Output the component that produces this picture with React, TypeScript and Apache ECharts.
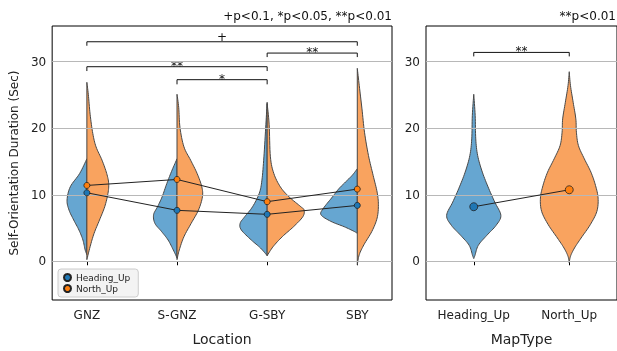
import React, { useEffect, useRef } from "react";
import * as echarts from "echarts";

// ---------- data ----------
const locations = ["GNZ", "S-GNZ", "G-SBY", "SBY"];
const headingMeans = [10.3, 7.66, 7.06, 8.4];
const northMeans = [11.4, 12.3, 8.96, 10.85];

const mapTypes = ["Heading_Up", "North_Up"];
const mapTypeMeans = [8.2, 10.75];

// violin profiles: y levels (sec) and half-widths (category units)
const headingProfileY = [
  [15.4, 13.2, 11.2, 9.2, 7.7, 6.2, 4.7, 3.2, 1.7, 1.0],
  [15.4, 13.7, 11.7, 9.7, 8.2, 7.0, 5.7, 4.5, 3.2, 1.7, 0.5],
  [23.9, 20.6, 15.7, 12.2, 10.2, 8.2, 6.7, 5.7, 4.7, 3.2, 2.0, 0.85],
  [13.9, 12.9, 11.9, 10.9, 9.5, 8.0, 7.0, 6.0, 5.2, 4.5, 4.2],
];
const headingProfileW = [
  [0, 0.08, 0.184, 0.22, 0.198, 0.146, 0.088, 0.044, 0.019, 0],
  [0, 0.055, 0.113, 0.165, 0.216, 0.26, 0.245, 0.173, 0.099, 0.041, 0],
  [0, 0.014, 0.036, 0.058, 0.088, 0.162, 0.249, 0.3, 0.286, 0.176, 0.074, 0],
  [0, 0.058, 0.132, 0.205, 0.286, 0.374, 0.403, 0.293, 0.146, 0.036, 0],
];
const northProfileY = [
  [26.9, 25.1, 22.1, 19.2, 17.2, 15.2, 13.2, 11.7, 10.2, 8.2, 6.2, 4.2, 2.2, 0.25],
  [25.1, 23.1, 20.1, 17.2, 15.2, 13.2, 11.2, 9.7, 7.7, 5.7, 3.7, 1.7, 0.25],
  [23.7, 20.6, 15.7, 13.2, 11.2, 9.7, 8.2, 7.7, 6.7, 5.2, 3.7, 2.2, 0.85],
  [29.0, 26.4, 22.9, 19.4, 15.9, 12.9, 10.4, 8.5, 6.5, 4.5, 2.5, 1.0, -0.5],
];
const northProfileW = [
  [0, 0.016, 0.036, 0.066, 0.102, 0.168, 0.22, 0.242, 0.234, 0.198, 0.14, 0.08, 0.036, 0],
  [0, 0.019, 0.033, 0.077, 0.151, 0.223, 0.275, 0.282, 0.238, 0.157, 0.077, 0.025, 0],
  [0, 0.022, 0.036, 0.074, 0.146, 0.242, 0.374, 0.41, 0.396, 0.293, 0.168, 0.066, 0],
  [0, 0.022, 0.052, 0.08, 0.124, 0.176, 0.22, 0.234, 0.22, 0.162, 0.074, 0.022, 0],
];
const mapProfileY = [
  [25.1, 21.9, 18.4, 15.9, 13.4, 10.9, 8.9, 6.9, 5.4, 3.9, 2.4, 0.9, 0.4],
  [28.5, 26.4, 23.9, 21.4, 19.4, 17.4, 15.4, 13.4, 11.4, 9.5, 7.5, 5.5, 3.5, 2.0, 0.75, -0.25],
];
const mapProfileW = [
  [0, 0.015, 0.021, 0.041, 0.09, 0.158, 0.22, 0.284, 0.234, 0.137, 0.048, 0.013, 0],
  [0, 0.013, 0.041, 0.069, 0.075, 0.096, 0.158, 0.227, 0.275, 0.302, 0.289, 0.22, 0.124, 0.055, 0.013, 0],
];

// significance brackets: [x1, x2, yTop, yTip]
const locationBrackets = [
  [0, 3, 33.0, 32.4],
  [2, 3, 31.3, 30.7],
  [0, 2, 29.25, 28.6],
  [1, 2, 27.3, 26.6],
];
const locationBracketLabels = ["+", "**", "**", "*"];
const mapBrackets = [[0, 1, 31.4, 30.8]];
const mapBracketLabels = ["**"];

const yTicks = [0, 10, 20, 30];
const leftNote = "+p<0.1, *p<0.05, **p<0.01";
const rightNote = "**p<0.01";

// ---------- styles ----------
const FONT = "DejaVu Sans";
const BLUE_FILL = "#66a6d1";
const ORANGE_FILL = "#f9a35f";
const BLUE = "#1f77b4";
const ORANGE = "#ff7f0e";
const EDGE = "#474747";
const GRID_COLOR = "#b8b8b8";

function smoothPath(pts: number[][], steps = 8): number[][] {
  const out: number[][] = [];
  for (let i = 0; i < pts.length - 1; i++) {
    const p0 = pts[i - 1] || pts[i];
    const p1 = pts[i];
    const p2 = pts[i + 1];
    const p3 = pts[i + 2] || pts[i + 1];
    for (let t = 0; t < steps; t++) {
      const s = t / steps;
      const s2 = s * s;
      const s3 = s2 * s;
      const f = (k: number) =>
        0.5 *
        (2 * p1[k] +
          (-p0[k] + p2[k]) * s +
          (2 * p0[k] - 5 * p1[k] + 4 * p2[k] - p3[k]) * s2 +
          (-p0[k] + 3 * p1[k] - 3 * p2[k] + p3[k]) * s3);
      out.push([f(0), f(1)]);
    }
  }
  out.push(pts[pts.length - 1]);
  return out;
}

function bracketRender(labels: string[]) {
  return (params: any, api: any) => {
    const x1 = api.value(0);
    const x2 = api.value(1);
    const yTop = api.value(2);
    const yTip = api.value(3);
    const a = api.coord([x1, yTip]);
    const b = api.coord([x1, yTop]);
    const c = api.coord([x2, yTop]);
    const d = api.coord([x2, yTip]);
    const label = labels[params.dataIndex];
    const off = label.indexOf("*") >= 0 ? 1 : 5;
    return {
      type: "group",
      children: [
        {
          type: "polyline",
          shape: { points: [a, b, c, d] },
          style: { stroke: "#111", lineWidth: 1, fill: "none" },
        },
        {
          type: "text",
          x: (b[0] + c[0]) / 2,
          y: b[1] - off,
          style: {
            text: label,
            fill: "#111",
            fontSize: 12,
            fontFamily: FONT,
            align: "center",
            verticalAlign: "middle",
          },
        },
      ],
    };
  };
}

const gridMarkLine = {
  silent: true,
  symbol: ["none", "none"],
  z: 3,
  label: { show: false },
  lineStyle: { color: GRID_COLOR, width: 1, type: "solid" },
  emphasis: { disabled: true },
  data: yTicks.map((v) => ({ yAxis: v })),
};

export default function App() {
  const ref = useRef<HTMLDivElement>(null);
  useEffect(() => {
    if (!ref.current) return;
    const chart = echarts.init(ref.current, null, { renderer: "svg" });

    const leftViolinData: number[][] = [];
    locations.forEach((_, i) => {
      leftViolinData.push([i, 0]);
      leftViolinData.push([i, 1]);
    });

    const axisCommon = {
      splitLine: { show: false },
      axisLine: { show: false },
      axisTick: { show: true, length: 4, lineStyle: { color: "#000", width: 1 } },
      nameTextStyle: { fontSize: 14, color: "#222", fontFamily: FONT },
    };

    const option: any = {
      animation: false,
      textStyle: { fontFamily: FONT },
      grid: [
        { left: 49, top: 26, width: 343, height: 276, show: true, borderColor: "#000", borderWidth: 1, backgroundColor: "transparent" },
        { left: 426, top: 26, width: 194, height: 276, show: true, borderColor: "#000", borderWidth: 1, backgroundColor: "transparent" },
      ],
      xAxis: [
        {
          ...axisCommon,
          type: "value",
          gridIndex: 0,
          min: -0.385,
          max: 3.385,
          axisTick: { ...axisCommon.axisTick, customValues: [0, 1, 2, 3] },
          axisLabel: {
            customValues: [0, 1, 2, 3],
            formatter: (v: number) => locations[Math.round(v)],
            fontSize: 12,
            color: "#222",
            margin: 9,
          },
          name: "Location",
          nameLocation: "middle",
          nameGap: 32,
        },
        {
          ...axisCommon,
          type: "value",
          gridIndex: 1,
          min: -0.5,
          max: 1.5,
          axisTick: { ...axisCommon.axisTick, customValues: [0, 1] },
          axisLabel: {
            customValues: [0, 1],
            formatter: (v: number) => mapTypes[Math.round(v)],
            fontSize: 12,
            color: "#222",
            margin: 9,
          },
          name: "MapType",
          nameLocation: "middle",
          nameGap: 32,
        },
      ],
      yAxis: [
        {
          ...axisCommon,
          type: "value",
          gridIndex: 0,
          min: -5.82,
          max: 35.37,
          axisTick: { ...axisCommon.axisTick, customValues: yTicks },
          axisLabel: { customValues: yTicks, fontSize: 12, color: "#222", margin: 6 },
          name: "Self-Orientation Duration (Sec)",
          nameLocation: "middle",
          nameGap: 25,
          nameTextStyle: { fontSize: 12, color: "#222", fontFamily: FONT },
        },
        {
          ...axisCommon,
          type: "value",
          gridIndex: 1,
          min: -5.82,
          max: 35.37,
          axisTick: { ...axisCommon.axisTick, customValues: yTicks },
          axisLabel: { customValues: yTicks, fontSize: 12, color: "#222", margin: 6 },
        },
      ],
      legend: {
        data: ["Heading_Up", "North_Up"],
        orient: "vertical",
        left: 58,
        top: 269,
        icon: "circle",
        itemWidth: 7,
        itemHeight: 7,
        itemGap: 2,
        padding: [4, 8, 4, 5],
        backgroundColor: "#f3f3f3",
        borderColor: "#cccccc",
        borderWidth: 1,
        borderRadius: 3,
        textStyle: { fontSize: 9, color: "#222", fontFamily: FONT },
        selectedMode: false,
      },
      graphic: [
        {
          type: "text",
          right: 617 - 392,
          top: 10,
          style: { text: leftNote, fontSize: 12, fontFamily: FONT, fill: "#111" },
        },
        {
          type: "text",
          right: 1,
          top: 10,
          style: { text: rightNote, fontSize: 12, fontFamily: FONT, fill: "#111" },
        },
      ],
      series: [
        {
          type: "custom",
          name: "violinsLocation",
          xAxisIndex: 0,
          yAxisIndex: 0,
          z: 2,
          silent: true,
          encode: { x: 0, y: 1 },
          data: leftViolinData,
          renderItem: (params: any, api: any) => {
            const i = api.value(0);
            const side = api.value(1);
            const ys = side === 0 ? headingProfileY[i] : northProfileY[i];
            const ws = side === 0 ? headingProfileW[i] : northProfileW[i];
            const sign = side === 0 ? -1 : 1;
            const center = api.coord([i, 0])[0];
            const edge = ys.map((y: number, k: number) => api.coord([i + sign * ws[k], y]));
            const pts = smoothPath(edge).map((p) => [
              sign < 0 ? Math.min(p[0], center) : Math.max(p[0], center),
              p[1],
            ]);
            return {
              type: "polygon",
              shape: { points: pts },
              style: { fill: side === 0 ? BLUE_FILL : ORANGE_FILL, stroke: EDGE, lineWidth: 1 },
            };
          },
        },
        {
          type: "custom",
          name: "bracketsLocation",
          xAxisIndex: 0,
          yAxisIndex: 0,
          z: 2,
          silent: true,
          encode: { x: [0, 1], y: [2, 3] },
          data: locationBrackets,
          renderItem: bracketRender(locationBracketLabels),
        },
        {
          type: "line",
          name: "Heading_Up",
          xAxisIndex: 0,
          yAxisIndex: 0,
          z: 10,
          data: headingMeans.map((v, i) => [i, v]),
          symbol: "circle",
          symbolSize: 6,
          itemStyle: { color: BLUE, borderColor: "#222", borderWidth: 0.8 },
          lineStyle: { color: "#222", width: 1 },
          markLine: gridMarkLine,
        },
        {
          type: "line",
          name: "North_Up",
          xAxisIndex: 0,
          yAxisIndex: 0,
          z: 10,
          data: northMeans.map((v, i) => [i, v]),
          symbol: "circle",
          symbolSize: 6,
          itemStyle: { color: ORANGE, borderColor: "#222", borderWidth: 0.8 },
          lineStyle: { color: "#222", width: 1 },
        },
        {
          type: "custom",
          name: "violinsMapType",
          xAxisIndex: 1,
          yAxisIndex: 1,
          z: 2,
          silent: true,
          encode: { x: 0, y: 1 },
          data: mapTypes.map((_, i) => [i, 0]),
          renderItem: (params: any, api: any) => {
            const i = api.value(0);
            const ys = mapProfileY[i];
            const ws = mapProfileW[i];
            const right = smoothPath(ys.map((y: number, k: number) => api.coord([i + ws[k], y])));
            const left = smoothPath(ys.map((y: number, k: number) => api.coord([i - ws[k], y])));
            const pts = right.concat(left.reverse());
            return {
              type: "polygon",
              shape: { points: pts },
              style: { fill: i === 0 ? BLUE_FILL : ORANGE_FILL, stroke: EDGE, lineWidth: 1 },
            };
          },
        },
        {
          type: "custom",
          name: "bracketsMapType",
          xAxisIndex: 1,
          yAxisIndex: 1,
          z: 2,
          silent: true,
          encode: { x: [0, 1], y: [2, 3] },
          data: mapBrackets,
          renderItem: bracketRender(mapBracketLabels),
        },
        {
          type: "line",
          name: "MapTypeMeans",
          xAxisIndex: 1,
          yAxisIndex: 1,
          z: 10,
          data: mapTypeMeans.map((v, i) => ({
            value: [i, v],
            itemStyle: { color: i === 0 ? BLUE : ORANGE, borderColor: "#222", borderWidth: 0.8 },
          })),
          symbol: "circle",
          symbolSize: 8,
          lineStyle: { color: "#222", width: 1 },
          markLine: gridMarkLine,
        },
      ],
    };

    chart.setOption(option);
    return () => chart.dispose();
  }, []);

  return (
    <div
      ref={ref}
      style={{ position: "fixed", left: 0, top: 0, width: 617, height: 351 }}
    />
  );
}
